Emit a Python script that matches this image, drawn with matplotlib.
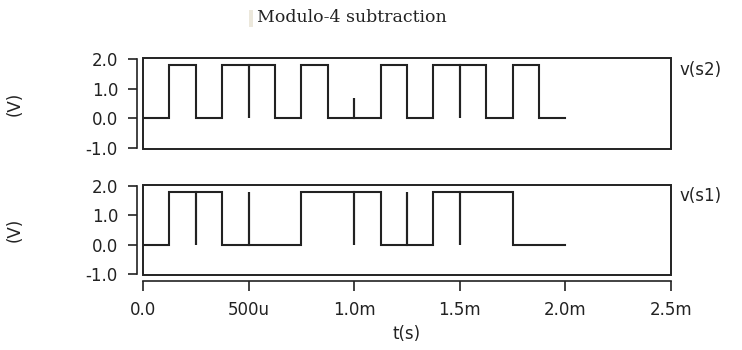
import matplotlib
matplotlib.use("Agg")
import matplotlib.pyplot as plt
from matplotlib.patches import Rectangle

# ---- data (time in ms, voltage in V) ----
s2_t = [0, 0.125, 0.125, 0.25, 0.25, 0.375, 0.375, 0.5, 0.5, 0.5, 0.625, 0.625,
        0.75, 0.75, 0.875, 0.875, 1.0, 1.0, 1.0, 1.125, 1.125, 1.25, 1.25,
        1.375, 1.375, 1.5, 1.5, 1.5, 1.625, 1.625, 1.75, 1.75, 1.875, 1.875, 2.0]
s2_v = [0, 0, 1.8, 1.8, 0, 0, 1.8, 1.8, 0, 1.8, 1.8, 0,
        0, 1.8, 1.8, 0, 0, 0.7, 0, 0, 1.8, 1.8, 0,
        0, 1.8, 1.8, 0, 1.8, 1.8, 0, 0, 1.8, 1.8, 0, 0]

s1_t = [0, 0.125, 0.125, 0.25, 0.25, 0.25, 0.375, 0.375, 0.5, 0.5, 0.5,
        0.75, 0.75, 1.0, 1.0, 1.0, 1.125, 1.125, 1.25, 1.25, 1.25,
        1.375, 1.375, 1.5, 1.5, 1.5, 1.75, 1.75, 2.0]
s1_v = [0, 0, 1.8, 1.8, 0, 1.8, 1.8, 0, 0, 1.8, 0,
        0, 1.8, 1.8, 0, 1.8, 1.8, 0, 0, 1.8, 0,
        0, 1.8, 1.8, 0, 1.8, 1.8, 0, 0]

y_ticks = [-1.0, 0.0, 1.0, 2.0]
y_ticklabels = ["-1.0", "0.0", "1.0", "2.0"]
x_ticks = [0.0, 0.5, 1.0, 1.5, 2.0, 2.5]
x_ticklabels = ["0.0", "500u", "1.0m", "1.5m", "2.0m", "2.5m"]
signal_names = ["v(s2)", "v(s1)"]
title = "Modulo-4 subtraction"
y_label = "(V)"
x_label = "t(s)"

# ---- figure ----
W, H = 742, 350
fig = plt.figure(figsize=(W / 100, H / 100), dpi=100)
ink = "#222222"
fs = 12

def px_axes(x0, y0, x1, y1):
    return fig.add_axes([x0 / W, 1 - y1 / H, (x1 - x0) / W, (y1 - y0) / H])

panels = [
    (px_axes(143, 58, 671, 149), s2_t, s2_v, signal_names[0], 70),
    (px_axes(143, 185, 671, 275), s1_t, s1_v, signal_names[1], 196),
]

for i, (ax, t, v, name, ly) in enumerate(panels):
    ax.plot(t, v, color=ink, lw=1.5, solid_joinstyle="miter")
    ax.set_xlim(0, 2.5)
    ax.set_ylim(-1.03, 2.03)
    for s in ["top", "right", "bottom"]:
        ax.spines[s].set_visible(False)
    ax.spines["left"].set_position(("outward", 4.5))
    ax.spines["left"].set_bounds(-1, 2)
    ax.spines["left"].set_color(ink)
    ax.spines["left"].set_linewidth(1.2)
    ax.add_patch(Rectangle((0, 0), 1, 1, transform=ax.transAxes, fill=False,
                           lw=1.4, edgecolor=ink, clip_on=False))
    ax.set_yticks(y_ticks)
    ax.set_yticklabels(y_ticklabels)
    ax.tick_params(axis="y", direction="out", length=6.5, width=1.2, pad=7,
                   labelsize=fs, colors=ink)
    ax.set_ylabel(y_label, fontsize=fs, color=ink, labelpad=45)
    ax.set_xticks([])
    fig.text(680 / W, 1 - ly / H, name, fontsize=fs, color=ink,
             ha="left", va="center")

axb = panels[1][0]
axb.spines["bottom"].set_visible(True)
axb.spines["bottom"].set_position(("outward", 4.5))
axb.spines["bottom"].set_bounds(0, 2.5)
axb.spines["bottom"].set_color(ink)
axb.spines["bottom"].set_linewidth(1.2)
axb.set_xticks(x_ticks)
axb.set_xticklabels(x_ticklabels)
axb.tick_params(axis="x", direction="out", length=7.2, width=1.2, pad=7,
                labelsize=fs, colors=ink)
axb.set_xlabel(x_label, fontsize=fs, color=ink, labelpad=4)

fig.text(257 / W, 1 - 17 / H, title, fontsize=12.5, family="DejaVu Serif",
         color=ink, ha="left", va="center")
fig.patches.append(Rectangle((249 / W, 1 - 27 / H), 4 / W, 17 / H,
                             transform=fig.transFigure, facecolor="#ece8dc",
                             edgecolor="none"))

fig.savefig("out.png", dpi=100)
